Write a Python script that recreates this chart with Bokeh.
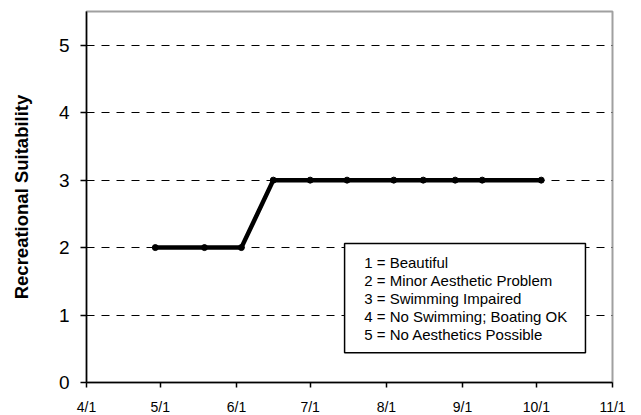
from datetime import datetime
from bokeh.plotting import figure
from bokeh.models import (Range1d, FixedTicker, CustomJSTickFormatter, BoxAnnotation, Label)
from bokeh.embed import file_html
from bokeh.resources import INLINE

# ---- data ----
sample_dates = ["2005-04-29", "2005-05-19", "2005-06-03", "2005-06-16", "2005-07-01",
                "2005-07-16", "2005-08-04", "2005-08-16", "2005-08-29", "2005-09-09",
                "2005-10-03"]
suitability = [2, 2, 2, 3, 3, 3, 3, 3, 3, 3, 3]

tick_dates = ["2005-04-01", "2005-05-01", "2005-06-01", "2005-07-01",
              "2005-08-01", "2005-09-01", "2005-10-01", "2005-11-01"]
tick_labels = ["4/1", "5/1", "6/1", "7/1", "8/1", "9/1", "10/1", "11/1"]
y_ticks = [0, 1, 2, 3, 4, 5]

legend_lines = ["1 = Beautiful",
                "2 = Minor Aesthetic Problem",
                "3 = Swimming Impaired",
                "4 = No Swimming; Boating OK",
                "5 = No Aesthetics Possible"]


def ms(s):
    d = datetime.strptime(s, "%Y-%m-%d")
    return (d - datetime(1970, 1, 1)).total_seconds() * 1000.0


xs = [ms(d) for d in sample_dates]
tick_ms = [ms(d) for d in tick_dates]

FONT = "Liberation Sans"

p = figure(x_axis_type="datetime", frame_width=526, frame_height=371,
           min_border_left=86, min_border_top=11, min_border_right=20, min_border_bottom=33,
           output_backend="svg", toolbar_location=None,
           x_range=Range1d(tick_ms[0], tick_ms[-1]), y_range=Range1d(0, 5.5))

p.background_fill_color = "white"
p.border_fill_color = "white"
p.outline_line_color = "#a0a0a0"
p.outline_line_width = 2

# grid
p.xgrid.visible = False
p.ygrid.ticker = FixedTicker(ticks=y_ticks[1:])
p.ygrid.grid_line_color = "black"
p.ygrid.grid_line_dash = "8 7"
p.ygrid.grid_line_width = 1

# axes
p.yaxis.ticker = FixedTicker(ticks=y_ticks)
p.xaxis.ticker = FixedTicker(ticks=tick_ms)
p.xaxis.formatter = CustomJSTickFormatter(
    args=dict(tick_pos=tick_ms, tick_txt=tick_labels),
    code="const i = tick_pos.indexOf(tick); return i >= 0 ? tick_txt[i] : '';")

for ax in (p.xaxis[0], p.yaxis[0]):
    ax.axis_line_color = "black"
    ax.axis_line_width = 1.5
    ax.major_tick_line_color = "black"
    ax.major_tick_line_width = 1.5
    ax.major_tick_in = 0
    ax.minor_tick_line_color = None
    ax.major_label_text_font = FONT
    ax.major_label_text_color = "black"

p.xaxis.major_tick_out = 5
p.xaxis.major_label_text_font_size = "14px"
p.xaxis.major_label_standoff = 11

p.yaxis.major_tick_out = 6
p.yaxis.major_label_text_font_size = "19px"
p.yaxis.major_label_standoff = 11
p.yaxis.axis_label = "Recreational Suitability"
p.yaxis.axis_label_text_font = FONT
p.yaxis.axis_label_text_font_style = "bold"
p.yaxis.axis_label_text_font_size = "18.5px"
p.yaxis.axis_label_text_color = "black"
p.yaxis.axis_label_standoff = 24

# data
p.line(xs, suitability, line_color="black", line_width=4.5)
p.scatter(xs, suitability, size=6, color="black")

# legend text box
p.add_layout(BoxAnnotation(left=ms("2005-07-15"), right=ms("2005-10-21"),
                           bottom=0.44, top=2.06, fill_color="white", fill_alpha=1.0,
                           line_color="black", line_alpha=1.0, line_width=1.5))
line_y = [1.775, 1.509, 1.243, 0.976, 0.71]
for txt, yy in zip(legend_lines, line_y):
    p.add_layout(Label(x=ms("2005-07-23"), y=yy, text=txt, text_font=FONT,
                       text_font_size="15px", text_baseline="middle",
                       text_color="black"))

open("out.html", "w").write(file_html(p, INLINE))
